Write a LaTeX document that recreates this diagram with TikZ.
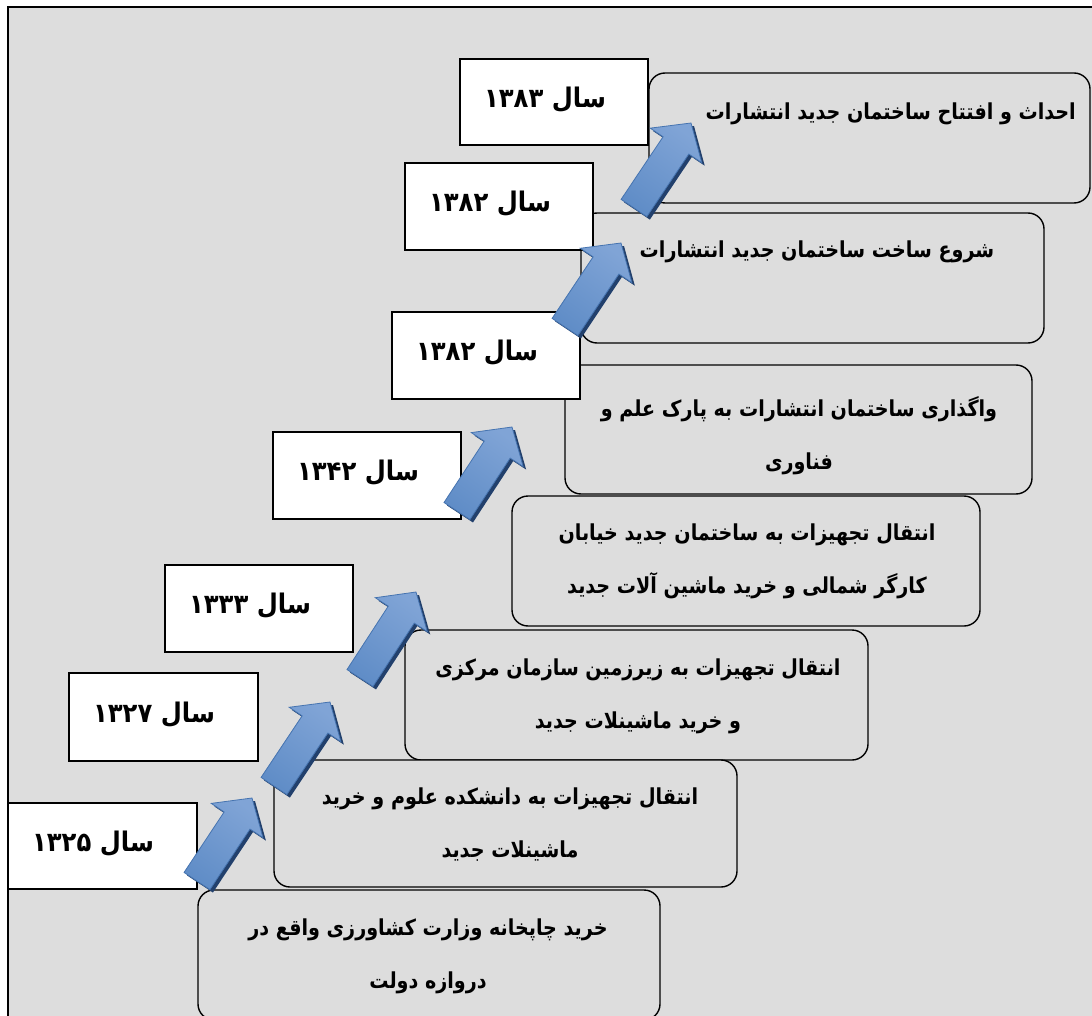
\documentclass[tikz,border=0pt]{standalone}
\usepackage{fontspec}
\TeXXeTstate=1
\newfontfamily\faev[Script=Arabic,FakeStretch=0.87]{DejaVu Sans}
\newfontfamily\fayr[Script=Arabic,FakeStretch=0.9]{DejaVu Sans}
\usetikzlibrary{calc}
\definecolor{bggray}{RGB}{221,221,221}
\definecolor{arrlight}{RGB}{128,164,214}
\definecolor{arrmid}{RGB}{76,126,188}
\definecolor{arrside}{RGB}{96,141,199}
\definecolor{arrline}{RGB}{70,116,176}
\definecolor{arrshadow}{RGB}{34,64,108}
\newcommand{\blockarrow}[2]{%
 \coordinate (aS1) at ($(#1)!15.5pt!90:(#2)$);
 \coordinate (aS2) at ($(#1)!15.5pt!-90:(#2)$);
 \coordinate (aB) at ($(#2)!27pt!(#1)$);
 \coordinate (aB1) at ($(aB)!15.5pt!90:(#2)$);
 \coordinate (aB2) at ($(aB)!15.5pt!-90:(#2)$);
 \coordinate (aH1) at ($(aB)!31pt!90:(#2)$);
 \coordinate (aH2) at ($(aB)!31pt!-90:(#2)$);
 \begin{scope}[transform canvas={shift={(3pt,-3pt)}}]
   \fill[arrshadow] (aS1)--(aB1)--(aH1)--(#2)--(aH2)--(aB2)--(aS2)--cycle;
 \end{scope}
 \shade[left color=arrlight, middle color=arrmid, right color=arrside, shading angle=-36]
   (aS1)--(aB1)--(aH1)--(#2)--(aH2)--(aB2)--(aS2)--cycle;
 \draw[arrline, line width=0.8pt, line join=miter]
   (aS1)--(aB1)--(aH1)--(#2)--(aH2)--(aB2)--(aS2)--cycle;
}
\tikzset{
 yearbox/.style={draw=black, fill=white, line width=1.6pt, rectangle, inner sep=0pt},
 evbox/.style={draw=black, fill=bggray, line width=1.4pt, rounded corners=16pt, inner sep=0pt},
 yeartext/.style={font=\fayr\bfseries\fontsize{27}{30}\selectfont, inner sep=0pt},
 evtext/.style={font=\faev\bfseries\fontsize{22}{53}\selectfont, align=center, inner sep=0pt},
}
\begin{document}
\begin{tikzpicture}[x=1pt,y=-1pt]
\useasboundingbox (0,0) rectangle (1092,1016);
\clip (0,0) rectangle (1092,1016);
% frame
\fill[bggray] (8,7) rectangle (1110,1030);
\draw[line width=1.4pt] (8,1030) -- (8,7) -- (1110,7);
% event boxes
\node[evbox, minimum width=441pt, minimum height=130pt] (e1383) at (869.5,138) {};
\node[evbox, minimum width=463pt, minimum height=130pt] (e1382a) at (812.5,278) {};
\node[evbox, minimum width=467pt, minimum height=129pt] (e1382b) at (798.5,429.5) {};
\node[evbox, minimum width=468pt, minimum height=130pt] (e1342) at (746,561) {};
\node[evbox, minimum width=463pt, minimum height=130pt] (e1333) at (636.5,695) {};
\node[evbox, minimum width=463pt, minimum height=127pt] (e1327) at (505.5,823.5) {};
\node[evbox, minimum width=462pt, minimum height=130pt] (e1325) at (429,955) {};
% event texts
\node[evtext, anchor=east] (x1383) at (1076,114) {\beginR احداث و افتتاح ساختمان جدید انتشارات\endR};
\node[evtext] (x1382a) at (817,252) {\beginR شروع ساخت ساختمان جدید انتشارات\endR};
\node[evtext] (x1382b) at (799,436) {\beginR واگذاری ساختمان انتشارات به پارک علم و\endR\\\beginR فناوری\endR};
\node[evtext] (x1342) at (747,561) {\beginR انتقال تجهیزات به ساختمان جدید خیابان\endR\\\beginR کارگر شمالی و خرید ماشین آلات جدید\endR};
\node[evtext] (x1333) at (638,696) {\beginR انتقال تجهیزات به زیرزمین سازمان مرکزی\endR\\\beginR و خرید ماشینلات جدید\endR};
\node[evtext] (x1327) at (510,825) {\beginR انتقال تجهیزات به دانشکده علوم و خرید\endR\\\beginR ماشینلات جدید\endR};
\node[evtext] (x1325) at (428,956) {\beginR خرید چاپخانه وزارت کشاورزی واقع در\endR\\\beginR دروازه دولت\endR};
% year boxes
\node[yearbox, minimum width=188pt, minimum height=86pt] (y1383) at (554,102) {};
\node[yearbox, minimum width=188pt, minimum height=87pt] (y1382a) at (499,206.5) {};
\node[yearbox, minimum width=188pt, minimum height=87pt] (y1382b) at (486,355.5) {};
\node[yearbox, minimum width=188pt, minimum height=87pt] (y1342) at (367,475.5) {};
\node[yearbox, minimum width=188pt, minimum height=87pt] (y1333) at (259,608.5) {};
\node[yearbox, minimum width=189pt, minimum height=88pt] (y1327) at (163.5,717) {};
\node[yearbox, minimum width=189pt, minimum height=86pt] (y1325) at (102.5,846) {};
\node[yeartext] (l1383) at (545,100) {\beginR سال ۱۳۸۳\endR};
\node[yeartext] (l1382a) at (490,204) {\beginR سال ۱۳۸۲\endR};
\node[yeartext] (l1382b) at (477,353) {\beginR سال ۱۳۸۲\endR};
\node[yeartext] (l1342) at (358,473) {\beginR سال ۱۳۴۲\endR};
\node[yeartext] (l1333) at (250,606) {\beginR سال ۱۳۳۳\endR};
\node[yeartext] (l1327) at (154,715) {\beginR سال ۱۳۲۷\endR};
\node[yeartext] (l1325) at (93,844) {\beginR سال ۱۳۲۵\endR};
% arrows
\coordinate (t1) at (197,881); \coordinate (p1) at (252,798);
\coordinate (t2) at (274,786); \coordinate (p2) at (330,702);
\coordinate (t3) at (360,678); \coordinate (p3) at (416,592);
\coordinate (t4) at (457,511); \coordinate (p4) at (512,427);
\coordinate (t5) at (565,327); \coordinate (p5) at (621,243);
\coordinate (t6) at (634,208); \coordinate (p6) at (691,123);
\blockarrow{t1}{p1}
\blockarrow{t2}{p2}
\blockarrow{t3}{p3}
\blockarrow{t4}{p4}
\blockarrow{t5}{p5}
\blockarrow{t6}{p6}
\end{tikzpicture}
\end{document}
